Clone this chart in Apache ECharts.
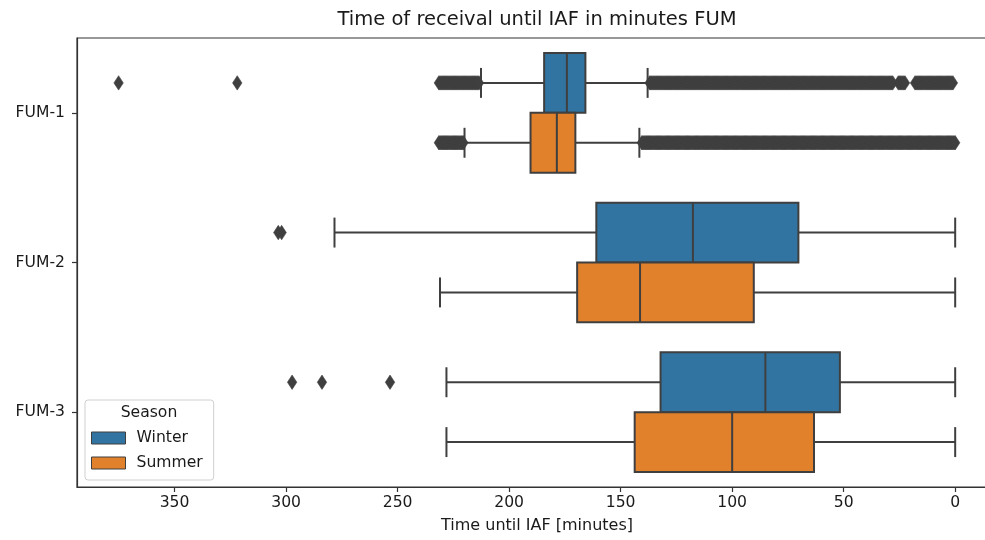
<!DOCTYPE html>
<html>
<head>
<meta charset="utf-8">
<script src="https://cdn.jsdelivr.net/npm/echarts@6/dist/echarts.min.js"></script>
<style>
  html, body { margin: 0; padding: 0; background: #ffffff; }
  #chart { width: 985px; height: 540px; }
</style>
</head>
<body>
<div id="chart"></div>
<script>
// Categories and seasons
const categories = ['FUM-1', 'FUM-2', 'FUM-3'];
const seasons = ['Winter', 'Summer'];

// Box statistics per category: [lower whisker, Q1, median, Q3, upper whisker] in minutes
const winterStats = [
  [137.9, 165.8, 174.1, 184.3, 212.6],
  [0, 70.3, 117.6, 160.9, 278.3],
  [0, 51.7, 85.1, 132.1, 228.1]
];
const summerStats = [
  [141.6, 170.3, 178.6, 190.4, 220.0],
  [0, 90.3, 141.3, 169.5, 231.0],
  [0, 63.3, 100.0, 143.7, 228.1]
];

// Outliers per category (minutes)
const winterOutliers = [
  [375.1, 321.9,
   231.5, 231, 230.5, 230, 229.5, 229, 228.5, 228, 227.5, 227, 226.5, 226, 225.5, 225, 224.5, 224, 223.5, 223, 222.5, 222,
   221.5, 221, 220.5, 220, 219.5, 219, 218.5, 218, 217.5, 217, 216.5, 216, 215.5, 215, 214.5, 214, 213.5,
   137, 136.5, 136, 135.5, 135, 134.5, 134, 133.5, 133, 132.5, 132, 131.5, 131, 130.5, 130,
   129.5, 129, 128.5, 128, 127.5, 127, 126.5, 126, 125.5, 125, 124.5, 124, 123.5, 123, 122.5, 122, 121.5, 121, 120.5, 120,
   119.5, 119, 118.5, 118, 117.5, 117, 116.5, 116, 115.5, 115, 114.5, 114, 113.5, 113, 112.5, 112, 111.5, 111, 110.5, 110,
   109.5, 109, 108.5, 108, 107.5, 107, 106.5, 106, 105.5, 105, 104.5, 104, 103.5, 103, 102.5, 102, 101.5, 101, 100.5, 100,
   99.5, 99, 98.5, 98, 97.5, 97, 96.5, 96, 95.5, 95, 94.5, 94, 93.5, 93, 92.5, 92, 91.5, 91, 90.5, 90,
   89.5, 89, 88.5, 88, 87.5, 87, 86.5, 86, 85.5, 85, 84.5, 84, 83.5, 83, 82.5, 82, 81.5, 81, 80.5, 80,
   79.5, 79, 78.5, 78, 77.5, 77, 76.5, 76, 75.5, 75, 74.5, 74, 73.5, 73, 72.5, 72, 71.5, 71, 70.5, 70,
   69.5, 69, 68.5, 68, 67.5, 67, 66.5, 66, 65.5, 65, 64.5, 64, 63.5, 63, 62.5, 62, 61.5, 61, 60.5, 60,
   59.5, 59, 58.5, 58, 57.5, 57, 56.5, 56, 55.5, 55, 54.5, 54, 53.5, 53, 52.5, 52, 51.5, 51, 50.5, 50,
   49.5, 49, 48.5, 48, 47.5, 47, 46.5, 46, 45.5, 45, 44.5, 44, 43.5, 43, 42.5, 42, 41.5, 41, 40.5, 40,
   39.5, 39, 38.5, 38, 37.5, 37, 36.5, 36, 35.5, 35, 34.5, 34, 33.5, 33, 32.5, 32, 31.5, 31, 30.5, 30,
   29.5, 29, 28.5, 28, 25.5, 25, 24.5, 24, 23.5, 23, 22.5,
   18, 17.5, 17, 16.5, 16, 15.5, 15, 14.5, 14, 13.5, 13, 12.5, 12, 11.5, 11, 10.5, 10,
   9.5, 9, 8.5, 8, 7.5, 7, 6.5, 6, 5.5, 5, 4.5, 4, 3.5, 3, 2.5, 2, 1.5, 1],
  [303.5, 302],
  [297.3, 283.9, 253.4]
];
const summerOutliers = [
  [231.5, 231, 230.5, 230, 229.5, 229, 228.5, 228, 227.5, 227, 226.5, 226, 225.5, 225, 224.5, 224, 223.5, 223, 222.5, 222,
   221.5, 221, 220.5,
   140.5, 140,
   139.5, 139, 138.5, 138, 137.5, 137, 136.5, 136, 135.5, 135, 134.5, 134, 133.5, 133, 132.5, 132, 131.5, 131, 130.5, 130,
   129.5, 129, 128.5, 128, 127.5, 127, 126.5, 126, 125.5, 125, 124.5, 124, 123.5, 123, 122.5, 122, 121.5, 121, 120.5, 120,
   119.5, 119, 118.5, 118, 117.5, 117, 116.5, 116, 115.5, 115, 114.5, 114, 113.5, 113, 112.5, 112, 111.5, 111, 110.5, 110,
   109.5, 109, 108.5, 108, 107.5, 107, 106.5, 106, 105.5, 105, 104.5, 104, 103.5, 103, 102.5, 102, 101.5, 101, 100.5, 100,
   99.5, 99, 98.5, 98, 97.5, 97, 96.5, 96, 95.5, 95, 94.5, 94, 93.5, 93, 92.5, 92, 91.5, 91, 90.5, 90,
   89.5, 89, 88.5, 88, 87.5, 87, 86.5, 86, 85.5, 85, 84.5, 84, 83.5, 83, 82.5, 82, 81.5, 81, 80.5, 80,
   79.5, 79, 78.5, 78, 77.5, 77, 76.5, 76, 75.5, 75, 74.5, 74, 73.5, 73, 72.5, 72, 71.5, 71, 70.5, 70,
   69.5, 69, 68.5, 68, 67.5, 67, 66.5, 66, 65.5, 65, 64.5, 64, 63.5, 63, 62.5, 62, 61.5, 61, 60.5, 60,
   59.5, 59, 58.5, 58, 57.5, 57, 56.5, 56, 55.5, 55, 54.5, 54, 53.5, 53, 52.5, 52, 51.5, 51, 50.5, 50,
   49.5, 49, 48.5, 48, 47.5, 47, 46.5, 46, 45.5, 45, 44.5, 44, 43.5, 43, 42.5, 42, 41.5, 41, 40.5, 40,
   39.5, 39, 38.5, 38, 37.5, 37, 36.5, 36, 35.5, 35, 34.5, 34, 33.5, 33, 32.5, 32, 31.5, 31, 30.5, 30,
   29.5, 29, 28.5, 28, 27.5, 27, 26.5, 26, 25.5, 25, 24.5, 24, 23.5, 23, 22.5, 22, 21.5, 21, 20.5, 20,
   19.5, 19, 18.5, 18, 17.5, 17, 16.5, 16, 15.5, 15, 14.5, 14, 13.5, 13, 12.5, 12, 11.5, 11, 10.5, 10,
   9.5, 9, 8.5, 8, 7.5, 7, 6.5, 6, 5.5, 5, 4.5, 4, 3.5, 3, 2.5, 2, 1.5, 1, 0.5, 0],
  [],
  []
];

// X axis tick labels (minutes)
const tickLabels = [350, 300, 250, 200, 150, 100, 50, 0];

const FONT = 'DejaVu Sans';
const TEXT = '#1a1a1a';
const LINE = '#3f3f3f';
const AXIS = '#333333';
const seasonColors = ['#3274a1', '#e1812c'];

// Horizontal box with whiskers, dodged within the category band
function boxRenderer(shift, fill) {
  return function (params, api) {
    const cat = api.value(0);
    const band = api.size([0, 1])[1];
    const yc = api.coord([0, cat])[1] + shift * band;
    const half = band * 0.2;
    const cap = band * 0.1;
    const px = function (v) { return api.coord([v, cat])[0]; };
    const lo = px(api.value(1)), q1 = px(api.value(2)), md = px(api.value(3));
    const q3 = px(api.value(4)), hi = px(api.value(5));
    const line = function (x1, y1, x2, y2) {
      return { type: 'line', shape: { x1: x1, y1: y1, x2: x2, y2: y2 },
               style: { stroke: LINE, lineWidth: 2 } };
    };
    return {
      type: 'group',
      children: [
        line(lo, yc, q1, yc),
        line(q3, yc, hi, yc),
        line(lo, yc - cap, lo, yc + cap),
        line(hi, yc - cap, hi, yc + cap),
        { type: 'rect',
          shape: { x: Math.min(q1, q3), y: yc - half, width: Math.abs(q3 - q1), height: 2 * half },
          style: { fill: fill, stroke: LINE, lineWidth: 2 } },
        line(md, yc - half, md, yc + half)
      ]
    };
  };
}

// Thin diamond markers for outliers
function flierRenderer(shift) {
  return function (params, api) {
    const cat = api.value(1);
    const band = api.size([0, 1])[1];
    const p = api.coord([api.value(0), cat]);
    const y = p[1] + shift * band;
    return {
      type: 'polygon',
      shape: { points: [[p[0], y - 7.2], [p[0] + 4.7, y], [p[0], y + 7.2], [p[0] - 4.7, y]] },
      style: { fill: LINE, stroke: LINE, lineWidth: 0.6 }
    };
  };
}

function boxData(stats) {
  return stats.map(function (s, i) { return [i].concat(s); });
}
function flierData(lists) {
  const out = [];
  lists.forEach(function (arr, i) { arr.forEach(function (v) { out.push([v, i]); }); });
  return out;
}

const chart = echarts.init(document.getElementById('chart'), null, { renderer: 'canvas' });

const gridLeft = 77, gridTop = 38, gridRight = -12, gridBottom = 53;
const titleX = gridLeft + (985 - gridLeft - gridRight) / 2;

chart.setOption({
  animation: false,
  backgroundColor: '#ffffff',
  textStyle: { fontFamily: FONT },
  graphic: [
    { type: 'text', x: titleX, y: 20, z: 100,
      style: { text: 'Time of receival until IAF in minutes FUM', fill: TEXT,
               font: '19.5px "DejaVu Sans"', textAlign: 'center', textVerticalAlign: 'middle' } },
    { type: 'text', x: 149, y: 413, z: 100,
      style: { text: 'Season', fill: TEXT,
               font: '15.6px "DejaVu Sans"', textAlign: 'center', textVerticalAlign: 'middle' } }
  ],
  grid: {
    left: gridLeft, top: gridTop, right: gridRight, bottom: gridBottom,
    show: true, borderColor: AXIS, borderWidth: 1.2, backgroundColor: 'transparent',
    containLabel: false, outerBoundsMode: 'none'
  },
  legend: {
    data: seasons,
    orient: 'vertical',
    left: 85, top: 400,
    padding: [30, 11, 9, 6],
    itemWidth: 34, itemHeight: 12, itemGap: 9,
    backgroundColor: '#ffffff', borderColor: '#d0d0d0', borderWidth: 1, borderRadius: 3,
    icon: 'rect',
    itemStyle: { borderColor: LINE, borderWidth: 1 },
    textStyle: { fontFamily: FONT, fontSize: 15.6, color: TEXT, lineHeight: 16, padding: [0, 0, 0, 6] },
    selectedMode: false,
    z: 10
  },
  xAxis: {
    type: 'value',
    inverse: true,
    min: -18.75, max: 393.75,
    name: 'Time until IAF [minutes]',
    nameLocation: 'middle',
    nameGap: 31,
    nameTextStyle: { fontFamily: FONT, fontSize: 16, color: TEXT },
    axisLine: { show: true, onZero: false, lineStyle: { color: AXIS, width: 1.2 } },
    axisTick: { show: true, length: 5, customValues: tickLabels, lineStyle: { color: AXIS, width: 1.2 } },
    axisLabel: { customValues: tickLabels, margin: 8, fontFamily: FONT, fontSize: 15.6, color: TEXT },
    splitLine: { show: false }
  },
  yAxis: {
    type: 'category',
    data: categories,
    inverse: true,
    position: 'left',
    axisLine: { show: true, onZero: false, lineStyle: { color: AXIS, width: 1.2 } },
    axisTick: { show: true, alignWithLabel: true, length: 5, lineStyle: { color: AXIS, width: 1.2 } },
    axisLabel: { margin: 12, fontFamily: FONT, fontSize: 15.6, color: TEXT },
    splitLine: { show: false }
  },
  series: [
    { name: seasons[0], type: 'custom', silent: true,
      itemStyle: { color: seasonColors[0] },
      encode: { y: 0, x: [1, 2, 3, 4, 5] },
      renderItem: boxRenderer(-0.2, seasonColors[0]),
      data: boxData(winterStats) },
    { name: seasons[1], type: 'custom', silent: true,
      itemStyle: { color: seasonColors[1] },
      encode: { y: 0, x: [1, 2, 3, 4, 5] },
      renderItem: boxRenderer(0.2, seasonColors[1]),
      data: boxData(summerStats) },
    { name: 'Winter outliers', type: 'custom', silent: true,
      itemStyle: { color: LINE },
      encode: { x: 0, y: 1 },
      renderItem: flierRenderer(-0.2),
      data: flierData(winterOutliers) },
    { name: 'Summer outliers', type: 'custom', silent: true,
      itemStyle: { color: LINE },
      encode: { x: 0, y: 1 },
      renderItem: flierRenderer(0.2),
      data: flierData(summerOutliers) }
  ]
});
</script>
</body>
</html>
